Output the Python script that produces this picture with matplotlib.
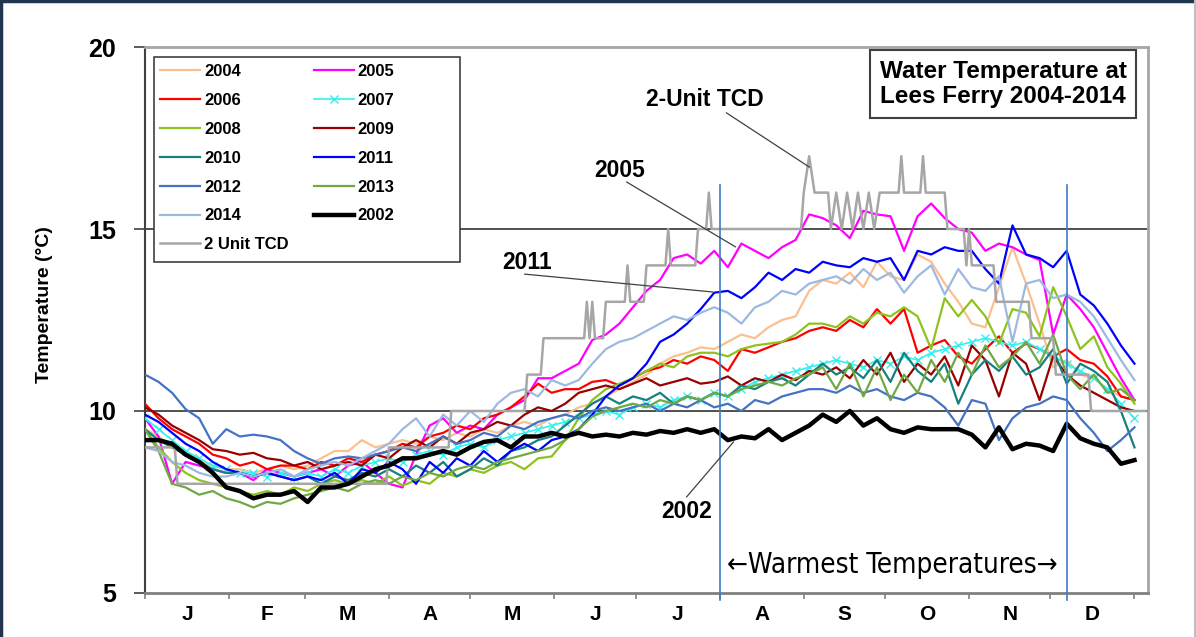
import matplotlib
matplotlib.use("Agg")
import matplotlib.pyplot as plt
from matplotlib.lines import Line2D
from matplotlib.patches import Rectangle

# day of year, sampled every 5 days
days = list(range(0, 366, 5))

t2004 = [9.5, 9.3, 9.0, 8.8, 8.6, 8.5, 8.4, 8.4, 8.3, 8.4,
         8.5, 8.4, 8.5, 8.7, 8.9, 8.9, 9.2, 9.0, 9.1, 9.2,
         9.1, 9.3, 9.2, 9.4, 9.3, 9.5, 9.4, 9.6, 9.7, 9.6,
         9.8, 9.9, 10.1, 10.2, 10.4, 10.6, 10.8, 11.0, 11.3, 11.5,
         11.6, 11.75, 11.7, 11.9, 12.1, 12.0, 12.3, 12.5, 12.6, 13.3,
         13.6, 13.5, 13.8, 13.4, 14.1, 13.7, 13.6, 14.3, 14.1, 13.5,
         13.0, 12.4, 12.3, 13.4, 14.5, 13.5, 12.4, 11.2, 11.4, 11.0,
         10.9, 10.6, 10.4, 10.3]
t2005 = [9.8, 9.3, 8.0, 8.6, 8.5, 8.4, 8.3, 8.3, 8.1, 8.4,
         8.3, 8.2, 8.3, 8.4, 8.2, 8.5, 8.6, 8.3, 8.0, 7.9,
         8.8, 9.6, 9.8, 9.4, 9.6, 9.5, 9.9, 10.1, 10.3, 10.9,
         10.9, 11.1, 11.3, 11.95, 12.1, 12.4, 12.85, 13.3, 13.6, 14.2,
         14.3, 14.05, 14.4, 13.95, 14.6, 14.4, 14.2, 14.5, 14.7, 15.4,
         15.3, 15.1, 14.75, 15.5, 15.4, 15.35, 14.4, 15.35, 15.7, 15.3,
         15.0, 14.9, 14.4, 14.6, 14.5, 14.3, 14.15, 12.1, 13.2, 12.8,
         12.3, 11.6, 10.9, 10.3]
t2006 = [10.2, 9.8, 9.5, 9.3, 9.1, 8.8, 8.7, 8.5, 8.6, 8.4,
         8.5, 8.5, 8.4, 8.6, 8.5, 8.7, 8.6, 8.8, 8.9, 9.1,
         9.0, 9.3, 9.4, 9.6, 9.5, 9.8, 9.9, 10.1, 10.4, 10.75,
         10.5, 10.6, 10.6, 10.8, 10.85, 10.7, 10.9, 11.1, 11.2, 11.4,
         11.3, 11.5, 11.4, 11.1, 11.7, 11.6, 11.75, 11.9, 12.0, 12.2,
         12.3, 12.2, 12.5, 12.3, 12.8, 12.4, 12.8, 11.6, 11.8, 11.95,
         11.5, 11.3, 11.7, 12.05, 11.6, 11.85, 11.7, 11.5, 11.7, 11.4,
         11.3, 10.95, 10.4, 10.3]
t2007 = [9.8, 9.5, 9.2, 8.9, 8.7, 8.5, 8.4, 8.3, 8.3, 8.2,
         8.3, 8.2, 8.3, 8.2, 8.4, 8.3, 8.5, 8.6, 8.7, 8.6,
         8.8, 8.9, 8.8, 9.0, 9.1, 9.0, 9.2, 9.3, 9.4, 9.5,
         9.6, 9.7, 9.8, 9.9, 10.0, 9.9, 10.1, 10.2, 10.1, 10.3,
         10.4, 10.3, 10.5, 10.4, 10.6, 10.8, 10.9, 11.0, 11.1, 11.2,
         11.3, 11.4, 11.3, 11.2, 11.4, 11.3, 11.5, 11.4, 11.6, 11.7,
         11.8, 11.9, 12.0, 11.9, 11.8, 11.9, 11.7, 11.5, 11.3, 11.1,
         10.9, 10.6, 10.2, 9.8]
t2008 = [9.5, 9.0, 8.6, 8.3, 8.1, 8.0, 7.9, 7.8, 7.7, 7.8,
         7.7, 7.9, 7.8, 8.0, 8.1, 8.0, 8.1, 8.0, 8.2, 7.95,
         8.1, 8.0, 8.3, 8.2, 8.4, 8.3, 8.5, 8.6, 8.4, 8.7,
         8.75, 9.2, 9.8, 10.3, 10.6, 10.75, 10.9, 11.1, 11.3, 11.2,
         11.5, 11.6, 11.6, 11.5, 11.7, 11.8, 11.85, 11.9, 12.1, 12.4,
         12.4, 12.3, 12.6, 12.4, 12.7, 12.6, 12.85, 12.6, 11.7, 13.1,
         12.6, 13.05, 12.6, 11.85, 12.8, 12.7, 12.05, 13.4, 12.6, 11.7,
         12.05, 11.2, 10.75, 10.2]
t2009 = [10.1, 9.9, 9.6, 9.4, 9.2, 8.95, 8.9, 8.8, 8.85, 8.7,
         8.65, 8.5, 8.6, 8.4, 8.5, 8.6, 8.5, 8.8, 8.7, 9.0,
         9.2, 9.0, 9.3, 9.1, 9.4, 9.5, 9.7, 9.6, 9.9, 10.1,
         10.0, 10.2, 10.5, 10.6, 10.7, 10.6, 10.75, 10.9, 10.7, 10.8,
         10.9, 10.75, 10.8, 10.95, 10.7, 10.9, 10.8, 11.0, 10.85, 11.1,
         11.0, 11.2, 10.9, 11.4, 11.0, 11.6, 10.8, 11.3, 11.0, 11.5,
         10.7, 11.8, 11.4, 10.4, 11.6, 11.3, 10.3, 11.5, 11.0, 10.7,
         10.5, 10.3, 10.1, 10.0]
t2010 = [9.5, 9.2, 9.0, 8.8, 8.6, 8.4, 8.3, 8.3, 8.2, 8.3,
         8.2, 8.1, 8.2, 8.0, 8.2, 8.1, 8.3, 8.2, 8.4, 8.2,
         8.5, 8.3, 8.6, 8.2, 8.4, 8.7, 8.5, 8.9, 9.0, 9.2,
         9.3, 9.6, 9.9, 10.2, 10.4, 10.2, 10.4, 10.3, 10.5, 10.2,
         10.4, 10.3, 10.5, 10.4, 10.7, 10.6, 10.8, 10.9, 10.7, 11.0,
         11.3, 11.0, 11.2, 10.9, 11.4, 10.8, 11.6, 11.1, 10.8, 11.3,
         10.2, 11.0, 11.4, 11.1, 11.5, 11.0, 11.2, 11.7, 10.75, 11.3,
         11.1, 10.8, 10.0, 9.0]
t2011 = [9.9, 9.7, 9.4, 9.1, 8.9, 8.6, 8.4, 8.3, 8.2, 8.3,
         8.2, 8.1, 8.2, 8.1, 8.3, 8.0, 8.4, 8.3, 8.6, 8.4,
         8.0, 8.6, 8.3, 8.7, 8.5, 8.9, 8.6, 8.9, 9.1, 8.9,
         9.2, 9.3, 9.5, 9.9, 10.4, 10.7, 10.9, 11.3, 11.9, 12.1,
         12.4, 12.8, 13.25, 13.3, 13.1, 13.4, 13.8, 13.6, 13.9, 13.8,
         14.1, 14.0, 13.95, 14.2, 14.1, 14.2, 13.6, 14.4, 14.3, 14.5,
         14.4, 14.4, 13.9, 13.5, 15.1, 14.3, 14.2, 13.95, 14.4, 13.2,
         12.9, 12.4, 11.8, 11.3]
t2012 = [11.0, 10.8, 10.5, 10.05, 9.8, 9.1, 9.5, 9.3, 9.35, 9.3,
         9.2, 8.9, 8.7, 8.55, 8.7, 8.75, 8.7, 8.8, 8.9, 9.0,
         8.9, 9.1, 9.3, 9.1, 9.2, 9.4, 9.3, 9.6, 9.5, 9.7,
         9.8, 9.9, 9.8, 10.0, 10.1, 10.0, 10.1, 10.2, 10.0, 10.2,
         10.1, 10.3, 10.1, 10.2, 10.0, 10.3, 10.2, 10.4, 10.5, 10.6,
         10.6, 10.5, 10.7, 10.5, 10.6, 10.4, 10.3, 10.5, 10.4, 10.1,
         9.6, 10.3, 10.2, 9.2, 9.8, 10.1, 10.2, 10.4, 10.3, 9.8,
         9.4, 8.9, 9.2, 9.55]
t2013 = [9.5, 8.9, 8.0, 7.9, 7.7, 7.8, 7.6, 7.5, 7.35, 7.5,
         7.45, 7.6, 7.7, 7.8, 7.9, 7.8, 8.0, 8.1, 8.0, 8.2,
         8.1, 8.3, 8.2, 8.4, 8.5, 8.4, 8.6, 8.7, 8.8, 8.9,
         9.0, 9.2, 9.5, 9.85, 10.0, 10.1, 10.2, 10.1, 10.3, 10.2,
         10.4, 10.3, 10.5, 10.4, 10.6, 10.7, 10.8, 10.7, 10.9, 11.0,
         11.2, 10.6, 11.3, 10.4, 11.2, 10.3, 11.0, 10.5, 11.4, 10.8,
         11.6, 11.0, 11.8, 11.2, 11.5, 11.9, 11.3, 12.1, 11.0, 10.6,
         11.0, 10.5, 10.6, 10.3]
t2014 = [9.0, 8.9, 8.6, 8.5, 8.3, 8.2, 8.2, 8.3, 8.2, 8.3,
         8.4, 8.2, 8.4, 8.5, 8.6, 8.5, 8.7, 8.9, 9.1, 9.5,
         9.8, 9.3, 9.9, 9.6, 10.0, 9.7, 10.2, 10.5, 10.6, 10.4,
         10.85, 10.7, 10.85, 11.3, 11.7, 11.9, 12.0, 12.2, 12.4, 12.6,
         12.5, 12.7, 12.85, 12.7, 12.4, 12.85, 13.0, 13.3, 13.2, 13.5,
         13.6, 13.7, 13.5, 13.9, 13.6, 13.8, 13.25, 13.7, 14.0, 13.2,
         13.9, 13.4, 13.3, 13.7, 11.9, 13.5, 13.6, 13.1, 13.2, 13.0,
         12.6, 12.0, 11.4, 10.85]
t2002 = [9.2, 9.2, 9.1, 8.8, 8.6, 8.3, 7.9, 7.8, 7.6, 7.7,
         7.7, 7.8, 7.5, 7.9, 7.9, 8.0, 8.2, 8.4, 8.5, 8.7,
         8.7, 8.8, 8.9, 8.8, 9.0, 9.15, 9.2, 9.0, 9.3, 9.3,
         9.4, 9.3, 9.4, 9.3, 9.35, 9.3, 9.4, 9.35, 9.45, 9.4,
         9.5, 9.4, 9.5, 9.2, 9.3, 9.25, 9.5, 9.2, 9.4, 9.6,
         9.9, 9.7, 10.0, 9.6, 9.8, 9.5, 9.4, 9.55, 9.5, 9.5,
         9.5, 9.35, 9.0, 9.55, 8.95, 9.1, 9.05, 8.9, 9.65, 9.25,
         9.1, 9.0, 8.55, 8.65]

# 2 unit TCD target temperature (day, value) vertices
tcd_days = [0, 11, 12, 89, 90, 112, 113, 140, 141, 146, 147, 162, 163, 164, 165, 166,
            169, 170, 177, 178, 179, 184, 185, 192, 193, 194, 203, 204, 207, 208, 209,
            242, 243, 245, 247, 252, 253, 255, 257, 259, 261, 263, 265, 267, 269, 271,
            278, 279, 280, 286, 287, 288, 295, 296, 302, 303, 304, 305, 313, 314, 326,
            327, 335, 336, 348, 349, 369]
tcd_vals = [9, 9, 8, 8, 9, 9, 10, 10, 11, 11, 12, 12, 13, 12, 13, 12,
            12, 13, 13, 14, 13, 13, 14, 14, 15, 14, 14, 15, 15, 16, 15,
            15, 16, 17, 16, 16, 15, 16, 15, 16, 15, 16, 15, 16, 15, 16,
            16, 17, 16, 16, 17, 16, 16, 15, 15, 14, 15, 14, 14, 13, 13,
            12, 12, 11, 11, 10, 10]

month_starts = [0, 31, 59, 90, 120, 151, 181, 212, 243, 273, 304, 334, 365]
month_labels = ["J", "F", "M", "A", "M", "J", "J", "A", "S", "O", "N", "D"]
warm_start, warm_end = 212, 340

plt.rcParams['font.family'] = ['Liberation Sans', 'DejaVu Sans']

fig = plt.figure(figsize=(11.96, 6.37), dpi=100)
ax = fig.add_axes([0.1212, 0.0691, 0.8387, 0.8571])

series = [
    ("2004", t2004, "#FAC090", 1.6, None),
    ("2005", t2005, "#FF00FF", 1.6, None),
    ("2006", t2006, "#FF0000", 1.6, None),
    ("2007", t2007, "#33F0F0", 1.2, "x"),
    ("2008", t2008, "#8DC21F", 1.6, None),
    ("2009", t2009, "#990000", 1.6, None),
    ("2010", t2010, "#17807E", 1.6, None),
    ("2011", t2011, "#0000FF", 1.6, None),
    ("2012", t2012, "#4472C4", 1.6, None),
    ("2013", t2013, "#70A844", 1.6, None),
    ("2014", t2014, "#9DB9E0", 1.6, None),
]
handles = {}
for name, vals, col, lw, mk in series:
    h, = ax.plot(days, vals, color=col, lw=lw, marker=mk, markersize=6,
                 markeredgewidth=1.0, zorder=3)
    handles[name] = h
h, = ax.plot(tcd_days, tcd_vals, color="#A6A6A6", lw=1.8, zorder=4)
handles["2 Unit TCD"] = h
h, = ax.plot(days, t2002, color="black", lw=3.2, zorder=5)
handles["2002"] = h

ax.set_xlim(0, 370)
ax.set_ylim(5, 20)

# gridlines at 10 and 15
for yv in (10, 15):
    ax.axhline(yv, color="#505050", lw=1.4, zorder=1)

# warmest-period markers
for xv in (warm_start, warm_end):
    ax.axvline(xv, ymin=-0.013, ymax=0.747, color="#3C7DC4", lw=1.2,
               clip_on=False, zorder=6)

# axes styling
ax.spines["left"].set_color("#404040")
ax.spines["left"].set_linewidth(1.5)
ax.spines["bottom"].set_color("#808080")
ax.spines["bottom"].set_linewidth(2)
for s in ("top", "right"):
    ax.spines[s].set_color("#A6A6A6")
    ax.spines[s].set_linewidth(2)

ax.set_yticks([5, 10, 15, 20])
ax.tick_params(axis="y", direction="out", length=8, width=1.2, pad=13,
               color="#404040", labelsize=18)
for lab in ax.get_yticklabels():
    lab.set_fontweight("bold")

ax.set_xticks(month_starts)
ax.set_xticklabels([])
ax.tick_params(axis="x", which="major", direction="out", length=4, width=1.2,
               color="#808080")
mids = [(a + b) / 2 for a, b in zip(month_starts[:-1], month_starts[1:])]
ax.set_xticks(mids, minor=True)
ax.set_xticklabels(month_labels, minor=True, fontsize=15, fontweight="bold")
ax.tick_params(axis="x", which="minor", length=0, pad=9)

fig.text(45 / 1196, 1 - 305 / 637, "Temperature (\u00b0C)", rotation=90,
         ha="center", va="center", fontsize=14, fontweight="bold")

# legend with its own frame
ax.add_patch(Rectangle((0.009, 0.606), 0.305, 0.376, transform=ax.transAxes,
                       facecolor="white", edgecolor="#404040", lw=1.2, zorder=7))
order = ["2004", "2006", "2008", "2010", "2012", "2014", "2 Unit TCD",
         "2005", "2007", "2009", "2011", "2013", "2002"]
leg = ax.legend([handles[k] for k in order], order, loc="upper left",
                bbox_to_anchor=(0.009, 0.979), borderaxespad=0, borderpad=0.35,
                ncol=2, frameon=False, numpoints=1, handlelength=2.4,
                handletextpad=0.25, columnspacing=1.5, labelspacing=0.83,
                prop={"size": 12, "weight": "bold"})
leg.set_zorder(8)

# title box
ax.text(316.6, 18.98, "Water Temperature at\nLees Ferry 2004-2014", ha="center",
        va="center", fontsize=17.5, fontweight="bold", linespacing=1.15, zorder=8,
        bbox=dict(boxstyle="square,pad=0.4", facecolor="white",
                  edgecolor="#404040", lw=1.5))

# callouts
lab_font = dict(fontsize=16.5, fontweight="bold")
callouts = [
    ("2-Unit TCD", (206.4, 18.57), (214.5, 18.19), (245.1, 16.70)),
    ("2005", (175.1, 16.62), (177.7, 16.29), (217.8, 14.51)),
    ("2011", (140.8, 14.09), (140.1, 13.76), (209.4, 13.27)),
    ("2002", (199.8, 7.25), (199.8, 7.64), (217.1, 9.15)),
]
for txt, tpos, p0, p1 in callouts:
    ax.text(tpos[0], tpos[1], txt, ha="center", va="center", zorder=9, **lab_font)
    ax.plot([p0[0], p1[0]], [p0[1], p1[1]], color="#404040", lw=0.9, zorder=9)

ax.text(275.7, 5.77, "\u2190Warmest Temperatures\u2192", ha="center", va="center",
        fontsize=20, family=["DejaVu Sans"], fontstretch="condensed", zorder=9)

# outer border of the picture
fig.add_artist(Line2D([0.001, 0.001], [0, 0.999], transform=fig.transFigure,
                      color="#1F3550", lw=2.5))
fig.add_artist(Line2D([0, 1], [0.998, 0.998], transform=fig.transFigure,
                      color="#1F3550", lw=2.5))
fig.add_artist(Line2D([0.999, 0.999], [0, 1], transform=fig.transFigure,
                      color="#C0C0C0", lw=1.5))

fig.savefig("out.png", dpi=100)
